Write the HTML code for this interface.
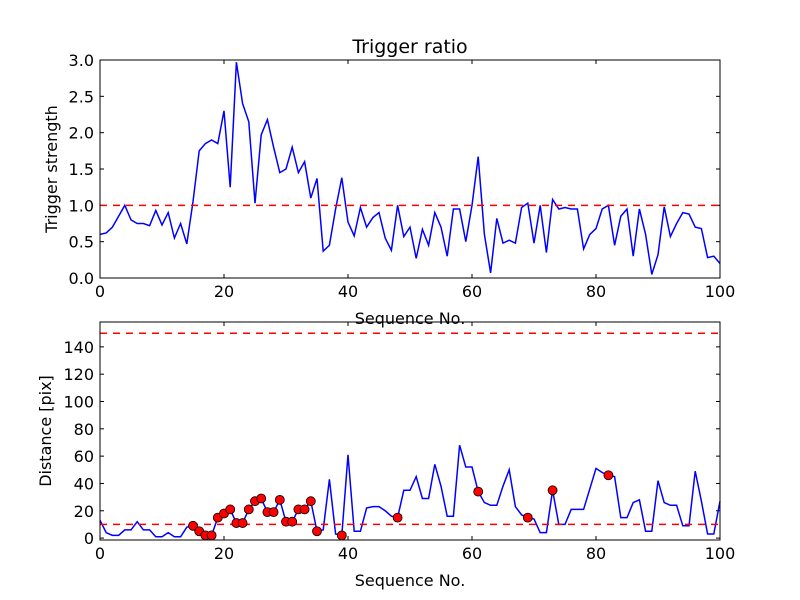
<!DOCTYPE html>
<html><head><meta charset="utf-8"><style>
body{margin:0;background:#fff}
svg{display:block;font-family:"DejaVu Sans","Liberation Sans",sans-serif}
</style></head><body>
<svg id="chart" width="800" height="600" xmlns="http://www.w3.org/2000/svg">
<rect width="800" height="600" fill="#fff"/>
</svg>
<script>
const seqTop = [0.6,0.62,0.7,0.85,1.0,0.8,0.75,0.75,0.72,0.93,0.73,0.9,0.55,0.75,0.47,1.05,1.75,1.85,1.9,1.85,2.3,1.25,2.97,2.4,2.15,1.03,1.97,2.18,1.8,1.45,1.5,1.8,1.45,1.6,1.1,1.37,0.37,0.45,0.95,1.38,0.77,0.58,0.97,0.7,0.83,0.9,0.55,0.38,1.0,0.57,0.7,0.27,0.67,0.45,0.9,0.7,0.3,0.95,0.95,0.5,1.0,1.67,0.6,0.07,0.82,0.48,0.52,0.48,0.97,1.03,0.48,1.0,0.35,1.08,0.95,0.97,0.95,0.95,0.4,0.6,0.68,0.95,1.0,0.45,0.85,0.95,0.3,0.95,0.6,0.05,0.32,0.98,0.57,0.75,0.9,0.88,0.7,0.68,0.28,0.3,0.2];
const distance = [13,4,2,2,6,6,12,6,6,1,1,4,1,1,8,9,5,2,2,15,18,21,11,11,21,27,29,19,19,28,12,12,21,21,27,5,6,43,3,2,61,5,5,22,23,23,20,16,15,35,35,45,29,29,54,38,16,16,68,52,52,34,26,24,24,38,50,23,17,15,14,4,4,35,10,10,21,21,21,36,51,48,46,45,15,15,26,28,5,5,42,26,24,24,9,9,49,27,3,3,27];
const markerIdx = [15,16,17,18,19,20,21,22,23,24,25,26,27,28,29,30,31,32,33,34,35,39,48,61,69,73,82];
const topThreshold = 1.0;
const botThresholds = [10,150];
const xTicks = [0,20,40,60,80,100];
const topYTicks = [0,0.5,1.0,1.5,2.0,2.5,3.0];
const topYLabels = ["0.0","0.5","1.0","1.5","2.0","2.5","3.0"];
const botYTicks = [0,20,40,60,80,100,120,140];

const svg = document.getElementById('chart');
const NS = 'http://www.w3.org/2000/svg';
function mk(tag, attrs, parent){const e=document.createElementNS(NS,tag);for(const k in attrs)e.setAttribute(k,attrs[k]);(parent||svg).appendChild(e);return e;}

const L=100,R=720;
const xS = v => L + (v/100)*(R-L);
const T1=60,B1=278, yT = v => B1 - (v/3)*(B1-T1);
const T2=322,B2=540, BMIN=-1.4, BMAX=158.2;
const yB = v => B2 - ((v-BMIN)/(BMAX-BMIN))*(B2-T2);

function axes(top,bottom,yf,yticks,ylabels,name,ytitle,ytitleY){
  const g = mk('g',{});
  
  
  xTicks.forEach(t=>{
    const x=xS(t);
    mk('line',{x1:x,x2:x,y1:bottom,y2:bottom-4,stroke:'#000'},g);
    mk('line',{x1:x,x2:x,y1:top,y2:top+4,stroke:'#000'},g);
    const tx=mk('text',{x:x,y:bottom+19,'text-anchor':'middle','font-size':16},g);
    tx.textContent=t;
    
    
  });
  yticks.forEach((t,i)=>{
    const y=yf(t);
    mk('line',{x1:L,x2:L+4,y1:y,y2:y,stroke:'#000'},g);
    mk('line',{x1:R,x2:R-4,y1:y,y2:y,stroke:'#000'},g);
    const tx=mk('text',{x:L-6,y:y+6,'text-anchor':'end','font-size':16},g);
    tx.textContent=ylabels[i];
    
    
  });
  const xt=mk('text',{x:(L+R)/2,y:bottom+46,'text-anchor':'middle','font-size':16},g);
  xt.textContent='Sequence No.';
  
  
  const yt=mk('text',{x:0,y:0,'text-anchor':'middle','font-size':16,transform:`translate(${ytitleY},${(top+bottom)/2}) rotate(-90)`},g);
  yt.textContent=ytitle;
  
  
  return g;
}

// top plot
const g1 = axes(T1,B1,yT,topYTicks,topYLabels,'top-axes','Trigger strength',57);
const l1 = mk('polyline',{points:seqTop.map((v,i)=>xS(i)+','+yT(v)).join(' '),fill:'none',stroke:'#0000ff','stroke-width':1.5});


const th1 = mk('line',{x1:L,x2:R,y1:yT(topThreshold),y2:yT(topThreshold),stroke:'#ff0000','stroke-width':1.5,'stroke-dasharray':'7,6'});


mk('rect',{x:L,y:T1,width:R-L,height:B1-T1,fill:'none',stroke:'#000','stroke-width':1});
const title = mk('text',{x:(L+R)/2,y:T1-7,'text-anchor':'middle','font-size':19});
title.textContent='Trigger ratio';



// bottom plot
const g2 = axes(T2,B2,yB,botYTicks,botYTicks.map(String),'bottom-axes','Distance [pix]',51);
const l2 = mk('polyline',{points:distance.map((v,i)=>xS(i)+','+yB(v)).join(' '),fill:'none',stroke:'#0000ff','stroke-width':1.5});


botThresholds.forEach(t=>{
  const l = mk('line',{x1:L,x2:R,y1:yB(t),y2:yB(t),stroke:'#ff0000','stroke-width':1.5,'stroke-dasharray':'7,6'});
  
  
});
markerIdx.forEach(i=>{
  const c = mk('circle',{cx:xS(i),cy:yB(distance[i]),r:4.5,fill:'#ff0000',stroke:'#000','stroke-width':0.8});
  
  
});
mk('rect',{x:L,y:T2,width:R-L,height:B2-T2,fill:'none',stroke:'#000','stroke-width':1});
</script>
</body></html>
